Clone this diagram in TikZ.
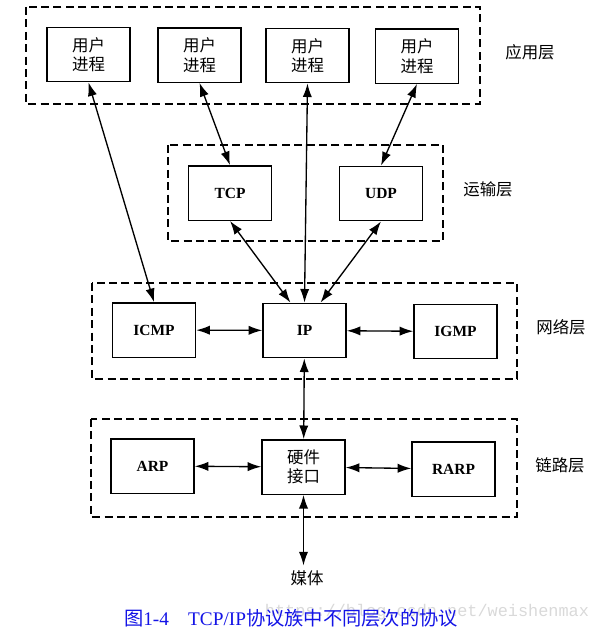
\documentclass[tikz,border=0pt]{standalone}
\usepackage{fontspec}
\setmainfont{Liberation Serif}
\newfontfamily\cjk{Noto Sans CJK SC}
\newfontfamily\wmfont{Liberation Mono}
\usetikzlibrary{arrows.meta}
\definecolor{capblue}{HTML}{1414E6}
\definecolor{wmgray}{HTML}{D9D9D9}

\begin{document}
\begin{tikzpicture}[x=0.025cm,y=-0.025cm,
  proc/.style={draw,line width=1pt,minimum width=2.075cm,minimum height=1.36cm,inner sep=0pt,align=center},
  cjkt/.style={font=\cjk\fontsize{11.7}{13.9}\selectfont},
  prot/.style={font=\bfseries\fontsize{11}{13}\selectfont},
  layer/.style={draw,dash pattern=on 2mm off 1.1mm,line width=0.85pt},
  link/.style={{Latex[length=3.4mm,width=2.3mm]}-{Latex[length=3.4mm,width=2.3mm]},line width=0.95pt}]
  \useasboundingbox (0,0) rectangle (599,633);

  % layers
  \draw[layer] (26,7) rectangle (480,104);
  \draw[layer] (168,145) rectangle (443,241);
  \draw[layer] (92,283) rectangle (517,379);
  \draw[layer] (91,419) rectangle (517,517);

  % application layer
  \node[proc,cjkt] (user1) at (88.5,54.5) {用户\\进程};
  \node[proc,cjkt] (user2) at (199.5,55) {用户\\进程};
  \node[proc,cjkt] (user3) at (307.5,55.5) {用户\\进程};
  \node[proc,cjkt] (user4) at (417,56) {用户\\进程};
  \node[cjkt] (applbl) at (530,52) {应用层};

  % transport layer
  \node[proc,prot] (tcp) at (230,193) {TCP};
  \node[proc,prot] (udp) at (381,193.5) {UDP};
  \node[cjkt] (translbl) at (488,189) {运输层};

  % network layer
  \node[proc,prot] (icmp) at (154,330) {ICMP};
  \node[proc,prot] (ip) at (304.5,330.5) {IP};
  \node[proc,prot] (igmp) at (455.5,331.5) {IGMP};
  \node[cjkt] (netlbl) at (561,327) {网络层};

  % link layer
  \node[proc,prot] (arp) at (152.5,466) {ARP};
  \node[proc,cjkt] (hw) at (303.5,467) {硬件\\接口};
  \node[proc,prot] (rarp) at (453.5,469) {RARP};
  \node[cjkt] (linklbl) at (560,465) {链路层};

  \node[cjkt] (media) at (307,578) {媒体};

  % connections
  \draw[link] (user1.south) -- (icmp.north);
  \draw[link] (user2.south) -- (tcp.north);
  \draw[link] (user3.south) -- (ip.north);
  \draw[link] (user4.south) -- (udp.north);
  \draw[link] (tcp.south) -- ([xshift=-3.5mm]ip.north);
  \draw[link] (udp.south) -- ([xshift=4mm]ip.north);
  \draw[link] (icmp) -- (ip);
  \draw[link] (ip) -- (igmp);
  \draw[link] (ip) -- (hw);
  \draw[link] (arp) -- (hw);
  \draw[link] (hw) -- (rarp);
  \draw[link] (hw.south) -- (hw.south |- media.north);

  % caption
  \node[font=\wmfont\fontsize{12}{14}\selectfont,text=wmgray] (wmark) at (427,612) {https://blog.csdn.net/weishenmax};
  \node[font=\fontsize{13.7}{16}\selectfont,text=capblue] (caption) at (291,618) {{\cjk 图}1-4\quad TCP/IP{\cjk 协议族中不同层次的协议}};
\end{tikzpicture}
\end{document}
